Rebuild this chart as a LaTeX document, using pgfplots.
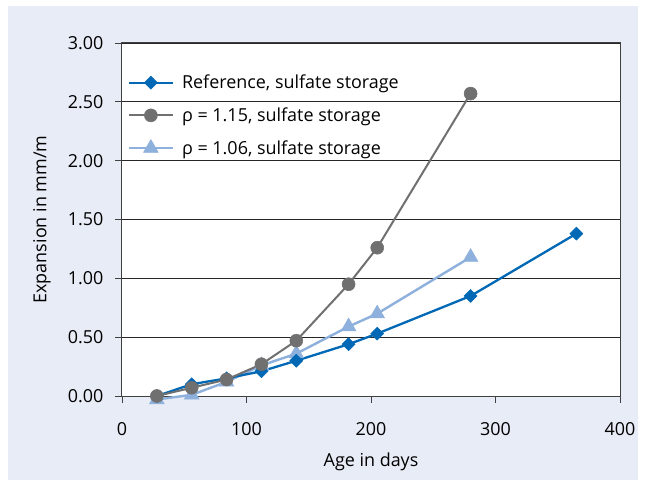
\documentclass[border=0pt]{standalone}
\usepackage{fontspec}
\setmainfont{Open Sans}
\usepackage{pgfplots}
\pgfplotsset{compat=1.18}
\definecolor{refblue}{RGB}{0,104,180}
\definecolor{dgray}{RGB}{112,112,112}
\definecolor{lblue}{RGB}{141,176,220}
\definecolor{bgblue}{RGB}{232,236,246}

\begin{document}
\begin{tikzpicture}
  \useasboundingbox (-122bp,-89bp) rectangle (526bp,396bp);
  \fill[bgblue] (-114bp,-84bp) rectangle (516bp,390bp);
  \begin{axis}[
    at={(0,0)}, anchor=south west,
    scale only axis,
    width=498bp, height=353bp,
    axis background/.style={fill=white},
    xmin=0, xmax=400, ymin=0, ymax=3,
    xtick={0,100,...,400},
    ytick={0,0.5,...,3},
    tick pos=left,
    tick align=outside,
    major tick length=7bp,
    tick style={black!75, line width=0.9bp},
    axis line style={black!75, line width=1bp},
    ymajorgrids,
    major grid style={black!85, line width=0.8bp},
    clip=false,
    /pgf/number format/assume math mode=true,
    yticklabel style={/pgf/number format/fixed, /pgf/number format/fixed zerofill, /pgf/number format/precision=2, xshift=-8bp},
    xticklabel style={yshift=-16bp},
    every tick label/.append style={font=\fontsize{18}{21}\selectfont},
    xlabel={Age in days},
    ylabel={Expansion in mm/m},
    every axis x label/.style={at={(axis description cs:0.5,-0.187)}, anchor=center, font=\fontsize{18}{21}\selectfont},
    every axis y label/.style={at={(axis description cs:-0.161,0.5)}, anchor=center, rotate=90, font=\fontsize{18}{21}\selectfont},
    legend cell align=left,
    legend style={draw=none, fill=none, at={(axis description cs:0.005,0.921)}, anchor=north west,
      font=\fontsize{18}{21}\selectfont, row sep=13.5bp},
    legend image code/.code={\draw[mark repeat=2,mark phase=2] plot coordinates {(0bp,0bp) (22bp,0bp) (44bp,0bp)};
      \path (50bp,0bp);},
  ]
  \addlegendimage{refblue, line width=2.3bp, mark=square*, mark size=4.6bp, mark options={rotate=45, solid, line width=0.5bp}}
  \addlegendentry{Reference, sulfate storage}
  \addlegendimage{dgray, line width=2bp, mark=*, mark size=6.5bp, mark options={line width=0.5bp}}
  \addlegendentry{ρ = 1.15, sulfate storage}
  \addlegendimage{lblue, line width=2.4bp, mark=triangle*, mark size=8.5bp, mark options={line width=0.5bp}}
  \addlegendentry{ρ = 1.06, sulfate storage}

  \addplot[lblue, line width=2.4bp, mark=triangle*, mark size=8.5bp, mark options={line width=0.5bp}, forget plot] coordinates {
    (28,-0.03) (56,0.01) (84,0.12) (112,0.26) (140,0.36) (182,0.59) (205,0.70) (280,1.18)
  };
  \addplot[refblue, line width=2.3bp, mark=square*, mark size=4.6bp, mark options={rotate=45, line width=0.5bp}, forget plot] coordinates {
    (28,0.00) (56,0.10) (84,0.15) (112,0.21) (140,0.30) (182,0.44) (205,0.53) (280,0.85) (365,1.38)
  };
  \addplot[dgray, line width=2bp, mark=*, mark size=6.5bp, mark options={line width=0.5bp}, forget plot] coordinates {
    (28,0.00) (56,0.07) (84,0.14) (112,0.27) (140,0.47) (182,0.95) (205,1.26) (280,2.57)
  };
  \end{axis}
\end{tikzpicture}
\end{document}
